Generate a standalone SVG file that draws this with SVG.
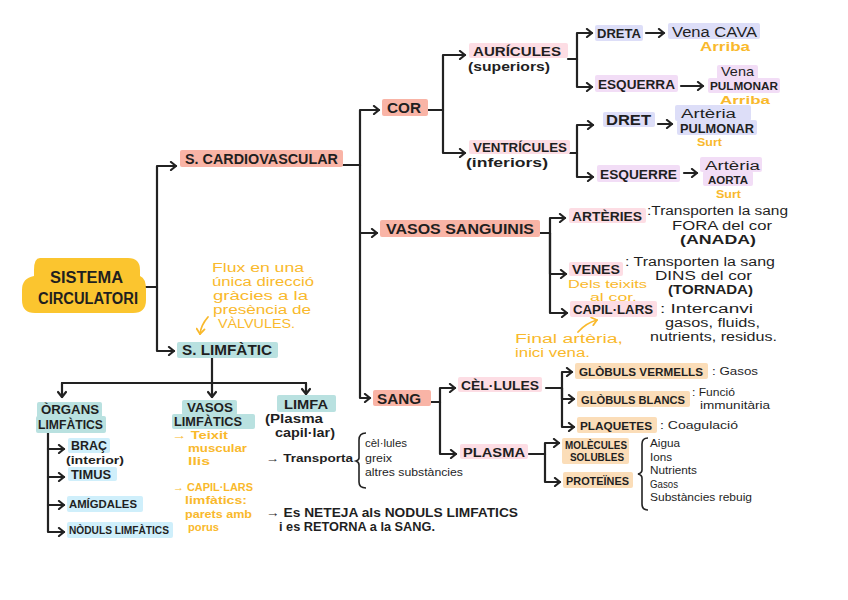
<svg xmlns="http://www.w3.org/2000/svg" width="848" height="600" viewBox="0 0 848 600">
<defs>
<marker id="ar" markerUnits="userSpaceOnUse" markerWidth="10" markerHeight="10" refX="7" refY="5" orient="auto">
<path d="M2,1 L7,5 L2,9" fill="none" stroke="#222" stroke-width="2.2" stroke-linecap="round" stroke-linejoin="round"/>
</marker>
<marker id="ary" markerUnits="userSpaceOnUse" markerWidth="10" markerHeight="10" refX="7" refY="5" orient="auto">
<path d="M2,1 L7,5 L2,9" fill="none" stroke="#F9B92C" stroke-width="1.8" stroke-linecap="round" stroke-linejoin="round"/>
</marker>
</defs>
<style>
.sal{fill:#F9B4A6}
.pk{fill:#FDDDE4}
.lv{fill:#DDDEF8}
.pu{fill:#F2DDF6}
.pe{fill:#FBDDB8}
.te{fill:#B9E1E0}
.lb{fill:#CFEFFB}
text{font-family:"Liberation Sans",Arial,sans-serif}
.b{font-weight:bold;fill:#1f1f1f}
.r{font-weight:normal;fill:#1f1f1f}
.y{font-weight:normal;fill:#F9B92C}
.yb{font-weight:bold;fill:#F9B92C}
.c{fill:none;stroke:#222;stroke-width:2.2;stroke-linejoin:round;stroke-linecap:round}
.ca{fill:none;stroke:#222;stroke-width:2.2;stroke-linejoin:round;stroke-linecap:round;marker-end:url(#ar)}
</style>
<rect width="848" height="600" fill="#ffffff"/>

<g id="connectors">
<path class="c" d="M145,287 H157"/>
<path class="ca" d="M157,287 V166 H176"/>
<path class="ca" d="M157,287 V351 H174"/>
<path class="c" d="M343,165 H360"/>
<path class="ca" d="M360,165 V110 H379"/>
<path class="ca" d="M360,165 V233 H377"/>
<path class="ca" d="M360,233 V398 H370"/>
<path class="c" d="M428,110 H443"/>
<path class="ca" d="M443,110 V55 H465"/>
<path class="ca" d="M443,110 V153 H465"/>
<path class="c" d="M568,59 H577"/>
<path class="ca" d="M577,59 V33 H592"/>
<path class="ca" d="M577,59 V87 H592"/>
<path class="ca" d="M646,33 H664"/>
<path class="ca" d="M681,86 H703"/>
<path class="c" d="M570,153 H577"/>
<path class="ca" d="M577,153 V125 H593"/>
<path class="ca" d="M577,153 V177 H593"/>
<path class="ca" d="M658,124 H672"/>
<path class="ca" d="M684,173 H697"/>
<path class="c" d="M540,233 H550"/>
<path class="ca" d="M550,233 V218 H565"/>
<path class="ca" d="M550,233 V274 H566"/>
<path class="ca" d="M550,233 V313 H567"/>
<path class="c" d="M431,402 H440"/>
<path class="ca" d="M440,402 V388 H455"/>
<path class="ca" d="M440,402 V454 H456"/>
<path class="c" d="M546,388 H562"/>
<path class="ca" d="M562,388 V372 H572"/>
<path class="ca" d="M562,388 V399 H574"/>
<path class="ca" d="M562,388 V427 H574"/>
<path class="c" d="M529,454 H545"/>
<path class="ca" d="M545,454 V443 H559"/>
<path class="ca" d="M545,454 V482 H560"/>
<path class="c" d="M212,358 V383"/>
<path class="c" d="M62,383 H306"/>
<path class="ca" d="M62,383 V397"/>
<path class="ca" d="M212,383 V397"/>
<path class="ca" d="M306,383 V394"/>
<path class="ca" d="M48,433 V532 H64"/>
<path class="ca" d="M48,449 H64"/>
<path class="ca" d="M48,477 H64"/>
<path class="ca" d="M48,505 H64"/>
<path d="M208,317 Q201,325 200,334" fill="none" stroke="#F9B92C" stroke-width="1.8" stroke-linecap="round" marker-end="url(#ary)"/>
<path d="M578,332 Q586,323 597,320" fill="none" stroke="#F9B92C" stroke-width="1.8" stroke-linecap="round" marker-end="url(#ary)"/>
<path d="M366,433 Q359,433 359,440 V458 Q359,460 356,461 Q359,462 359,465 V482 Q359,488 366,488" fill="none" stroke="#222" stroke-width="1.6"/>
<path d="M648,438 Q642,438 642,444 V470 Q642,473 638,474 Q642,475 642,478 V504 Q642,510 648,510" fill="none" stroke="#222" stroke-width="1.6"/>
</g>

<g id="sistema-circulatori">
<path d="M40,258 H128 Q140,258 140,270 V276 Q146,278 146,290 V300 Q146,313 133,313 H35 Q22,313 22,300 V290 Q22,278 34,276 V270 Q34,258 40,258 Z" fill="#FBC52F"/>
<text class="b" x="50" y="283" style="font-size:16px" textLength="73" lengthAdjust="spacingAndGlyphs">SISTEMA</text>
<text class="b" x="38" y="304" style="font-size:16px" textLength="100" lengthAdjust="spacingAndGlyphs">CIRCULATORI</text>
</g>

<g id="s-cardiovascular">
<rect class="sal" x="180" y="150" width="163" height="17" rx="2"/>
<text class="b" x="185" y="164" style="font-size:14px" textLength="153" lengthAdjust="spacingAndGlyphs">S. CARDIOVASCULAR</text>
</g>

<g id="s-limfatic">
<rect class="te" x="177" y="342" width="101" height="16" rx="2"/>
<text class="b" x="182" y="355" style="font-size:14px" textLength="90" lengthAdjust="spacingAndGlyphs">S. LIMFÀTIC</text>
</g>

<g id="nota-valvules">
<text class="y" x="212" y="272" style="font-size:12.5px" textLength="92" lengthAdjust="spacingAndGlyphs">Flux en una</text>
<text class="y" x="212" y="286" style="font-size:12.5px" textLength="102" lengthAdjust="spacingAndGlyphs">única direcció</text>
<text class="y" x="213" y="300" style="font-size:12.5px" textLength="95" lengthAdjust="spacingAndGlyphs">gràcies a la</text>
<text class="y" x="213" y="314" style="font-size:12.5px" textLength="98" lengthAdjust="spacingAndGlyphs">presència de</text>
<text class="y" x="218" y="328" style="font-size:12.5px" textLength="77" lengthAdjust="spacingAndGlyphs">VÀLVULES.</text>
</g>

<g id="cor">
<rect class="sal" x="382" y="99" width="46" height="17" rx="2"/>
<text class="b" x="387" y="113" style="font-size:14px" textLength="34" lengthAdjust="spacingAndGlyphs">COR</text>
</g>

<g id="vasos-sanguinis">
<rect class="sal" x="380" y="220" width="160" height="17" rx="2"/>
<text class="b" x="386" y="234" style="font-size:14px" textLength="148" lengthAdjust="spacingAndGlyphs">VASOS SANGUINIS</text>
</g>

<g id="sang">
<rect class="sal" x="373" y="390" width="58" height="16" rx="2"/>
<text class="b" x="377" y="404" style="font-size:14px" textLength="44" lengthAdjust="spacingAndGlyphs">SANG</text>
</g>

<g id="auricules">
<rect class="pk" x="469" y="43" width="99" height="15" rx="2"/>
<text class="b" x="473" y="56" style="font-size:13.5px" textLength="88" lengthAdjust="spacingAndGlyphs">AURÍCULES</text>
<text class="b" x="468" y="71" style="font-size:12.5px" textLength="82" lengthAdjust="spacingAndGlyphs">(superiors)</text>
</g>

<g id="ventricules">
<rect class="pk" x="469" y="140" width="101" height="14" rx="2"/>
<text class="b" x="473" y="152" style="font-size:13px" textLength="94" lengthAdjust="spacingAndGlyphs">VENTRÍCULES</text>
<text class="b" x="466" y="167" style="font-size:12.5px" textLength="82" lengthAdjust="spacingAndGlyphs">(inferiors)</text>
</g>

<g id="dreta">
<rect class="lv" x="595" y="25" width="48" height="16" rx="2"/>
<text class="b" x="597" y="38" style="font-size:12.5px" textLength="44" lengthAdjust="spacingAndGlyphs">DRETA</text>
</g>
<g id="vena-cava">
<rect class="lv" x="668" y="23" width="92" height="16" rx="2"/>
<text class="r" x="672" y="37" style="font-size:14px" textLength="85" lengthAdjust="spacingAndGlyphs">Vena CAVA</text>
<text class="yb" x="700" y="51" style="font-size:12px" textLength="50" lengthAdjust="spacingAndGlyphs">Arriba</text>
</g>

<g id="esquerra">
<rect class="pu" x="595" y="75" width="83" height="17" rx="2"/>
<text class="b" x="598" y="89" style="font-size:13.5px" textLength="77" lengthAdjust="spacingAndGlyphs">ESQUERRA</text>
</g>
<g id="vena-pulmonar">
<rect class="pu" x="717" y="65" width="41" height="15" rx="2"/>
<rect class="pu" x="708" y="78" width="72" height="15" rx="2"/>
<text class="r" x="721" y="76" style="font-size:13px" textLength="33" lengthAdjust="spacingAndGlyphs">Vena</text>
<text class="b" x="710" y="90" style="font-size:11.8px" textLength="68" lengthAdjust="spacingAndGlyphs">PULMONAR</text>
<text class="yb" x="720" y="104" style="font-size:11.5px" textLength="50" lengthAdjust="spacingAndGlyphs">Arriba</text>
</g>

<g id="dret">
<rect class="lv" x="603" y="112" width="52" height="15" rx="2"/>
<text class="b" x="606" y="125" style="font-size:14px" textLength="45" lengthAdjust="spacingAndGlyphs">DRET</text>
</g>
<g id="arteria-pulmonar">
<rect class="lv" x="675" y="105" width="76" height="16" rx="2"/>
<rect class="lv" x="677" y="120" width="80" height="15" rx="2"/>
<text class="r" x="681" y="118" style="font-size:12.5px" textLength="55" lengthAdjust="spacingAndGlyphs">Artèria</text>
<text class="b" x="680" y="132.5" style="font-size:12.5px" textLength="74" lengthAdjust="spacingAndGlyphs">PULMONAR</text>
<text class="yb" x="697" y="146" style="font-size:11px" textLength="25" lengthAdjust="spacingAndGlyphs">Surt</text>
</g>

<g id="esquerre">
<rect class="pu" x="597" y="165" width="83" height="17" rx="2"/>
<text class="b" x="600" y="179" style="font-size:13.5px" textLength="77" lengthAdjust="spacingAndGlyphs">ESQUERRE</text>
</g>
<g id="arteria-aorta">
<rect class="pu" x="700" y="157" width="62" height="15" rx="2"/>
<rect class="pu" x="703" y="171" width="50" height="15" rx="2"/>
<text class="r" x="705" y="170" style="font-size:12.5px" textLength="55" lengthAdjust="spacingAndGlyphs">Artèria</text>
<text class="b" x="708" y="184" style="font-size:11.5px" textLength="40" lengthAdjust="spacingAndGlyphs">AORTA</text>
<text class="yb" x="716" y="198" style="font-size:11px" textLength="25" lengthAdjust="spacingAndGlyphs">Surt</text>
</g>

<g id="arteries">
<rect class="pk" x="569" y="208" width="77" height="15" rx="2"/>
<text class="b" x="572" y="221" style="font-size:13.5px" textLength="70" lengthAdjust="spacingAndGlyphs">ARTÈRIES</text>
<text class="r" x="647" y="215" style="font-size:12.5px" textLength="141" lengthAdjust="spacingAndGlyphs">:Transporten la sang</text>
<text class="r" x="672" y="230" style="font-size:12.5px" textLength="100" lengthAdjust="spacingAndGlyphs">FORA del cor</text>
<text class="b" x="680" y="244" style="font-size:12.5px" textLength="76" lengthAdjust="spacingAndGlyphs">(ANADA)</text>
</g>

<g id="venes">
<rect class="pk" x="569" y="262" width="54" height="14" rx="2"/>
<text class="b" x="572" y="274" style="font-size:13px" textLength="48" lengthAdjust="spacingAndGlyphs">VENES</text>
<text class="r" x="625" y="266" style="font-size:12.5px" textLength="150" lengthAdjust="spacingAndGlyphs">: Transporten la sang</text>
<text class="r" x="655" y="280" style="font-size:12.5px" textLength="97" lengthAdjust="spacingAndGlyphs">DINS del cor</text>
<text class="b" x="668" y="294" style="font-size:12.5px" textLength="85" lengthAdjust="spacingAndGlyphs">(TORNADA)</text>
<text class="y" x="568" y="287.5" style="font-size:11.5px" textLength="79" lengthAdjust="spacingAndGlyphs">Dels teixits</text>
<text class="y" x="590" y="300.5" style="font-size:11px" textLength="47" lengthAdjust="spacingAndGlyphs">al cor.</text>
</g>

<g id="capil-lars">
<rect class="pk" x="570" y="301" width="87" height="16" rx="2"/>
<text class="b" x="573" y="314" style="font-size:13px" textLength="80" lengthAdjust="spacingAndGlyphs">CAPIL·LARS</text>
<text class="r" x="660" y="313" style="font-size:12.5px" textLength="93" lengthAdjust="spacingAndGlyphs">: Intercanvi</text>
<text class="r" x="665" y="327" style="font-size:12.5px" textLength="95" lengthAdjust="spacingAndGlyphs">gasos, fluids,</text>
<text class="r" x="650" y="341" style="font-size:12.5px" textLength="127" lengthAdjust="spacingAndGlyphs">nutrients, residus.</text>
<text class="y" x="515" y="343" style="font-size:12.5px" textLength="108" lengthAdjust="spacingAndGlyphs">Final artèria,</text>
<text class="y" x="515" y="357" style="font-size:12.5px" textLength="75" lengthAdjust="spacingAndGlyphs">inici vena.</text>
</g>

<g id="cel-lules">
<rect class="pk" x="458" y="377" width="84" height="15" rx="2"/>
<text class="b" x="461" y="390" style="font-size:13.5px" textLength="78" lengthAdjust="spacingAndGlyphs">CÈL·LULES</text>
</g>

<g id="plasma">
<rect class="pk" x="460" y="444" width="68" height="15" rx="2"/>
<text class="b" x="463" y="457" style="font-size:13.5px" textLength="62" lengthAdjust="spacingAndGlyphs">PLASMA</text>
</g>

<g id="globuls-vermells">
<rect class="pe" x="575" y="363" width="133" height="16" rx="2"/>
<text class="b" x="579" y="376" style="font-size:11.6px" textLength="124" lengthAdjust="spacingAndGlyphs">GLÒBULS VERMELLS</text>
<text class="r" x="712" y="375" style="font-size:11px" textLength="46" lengthAdjust="spacingAndGlyphs">: Gasos</text>
</g>

<g id="globuls-blancs">
<rect class="pe" x="577" y="391" width="113" height="16" rx="2"/>
<text class="b" x="581" y="404" style="font-size:11px" textLength="104" lengthAdjust="spacingAndGlyphs">GLÒBULS BLANCS</text>
<text class="r" x="692" y="396" style="font-size:10.5px" textLength="43" lengthAdjust="spacingAndGlyphs">: Funció</text>
<text class="r" x="700" y="409" style="font-size:10.5px" textLength="70" lengthAdjust="spacingAndGlyphs">immunitària</text>
</g>

<g id="plaquetes">
<rect class="pe" x="577" y="417" width="80" height="16" rx="2"/>
<text class="b" x="580" y="430" style="font-size:11.7px" textLength="72" lengthAdjust="spacingAndGlyphs">PLAQUETES</text>
<text class="r" x="660" y="429" style="font-size:11px" textLength="78" lengthAdjust="spacingAndGlyphs">: Coagulació</text>
</g>

<g id="molecules-solubles">
<rect class="pe" x="562" y="438" width="67" height="26" rx="2"/>
<text class="b" x="565" y="449" style="font-size:10px" textLength="62" lengthAdjust="spacingAndGlyphs">MOLÈCULES</text>
<text class="b" x="570" y="461" style="font-size:10px" textLength="54" lengthAdjust="spacingAndGlyphs">SOLUBLES</text>
</g>

<g id="proteines">
<rect class="pe" x="563" y="472" width="70" height="16" rx="2"/>
<text class="b" x="566" y="485" style="font-size:10.8px" textLength="63" lengthAdjust="spacingAndGlyphs">PROTEÏNES</text>
</g>

<g id="components-plasma">
<text class="r" x="650" y="447" style="font-size:11px" textLength="30" lengthAdjust="spacingAndGlyphs">Aigua</text>
<text class="r" x="650" y="461" style="font-size:11px" textLength="22" lengthAdjust="spacingAndGlyphs">Ions</text>
<text class="r" x="650" y="474" style="font-size:11px" textLength="47" lengthAdjust="spacingAndGlyphs">Nutrients</text>
<text class="r" x="650" y="488" style="font-size:11px" textLength="28" lengthAdjust="spacingAndGlyphs">Gasos</text>
<text class="r" x="650" y="501" style="font-size:11px" textLength="102" lengthAdjust="spacingAndGlyphs">Substàncies rebuig</text>
</g>

<g id="organs-limfatics">
<rect class="te" x="37" y="402" width="65" height="16" rx="2"/>
<rect class="te" x="36" y="416" width="70" height="17" rx="2"/>
<text class="b" x="41" y="414" style="font-size:12px" textLength="58" lengthAdjust="spacingAndGlyphs">ÒRGANS</text>
<text class="b" x="38" y="429" style="font-size:12px" textLength="65" lengthAdjust="spacingAndGlyphs">LIMFÀTICS</text>
</g>

<g id="brac">
<rect class="lb" x="68" y="438" width="42" height="15" rx="2"/>
<text class="b" x="71" y="450" style="font-size:12px" textLength="36" lengthAdjust="spacingAndGlyphs">BRAÇ</text>
<text class="b" x="66" y="464" style="font-size:11px" textLength="58" lengthAdjust="spacingAndGlyphs">(interior)</text>
</g>
<g id="timus">
<rect class="lb" x="68" y="467" width="49" height="14" rx="2"/>
<text class="b" x="71" y="479" style="font-size:12px" textLength="40" lengthAdjust="spacingAndGlyphs">TIMUS</text>
</g>
<g id="amigdales">
<rect class="lb" x="67" y="496" width="76" height="16" rx="2"/>
<text class="b" x="69" y="508" style="font-size:11.3px" textLength="68" lengthAdjust="spacingAndGlyphs">AMÍGDALES</text>
</g>
<g id="noduls-limfatics">
<rect class="lb" x="67" y="522" width="106" height="16" rx="2"/>
<text class="b" x="69" y="534" style="font-size:10.2px" textLength="100" lengthAdjust="spacingAndGlyphs">NÒDULS LIMFÀTICS</text>
</g>

<g id="vasos-limfatics">
<rect class="te" x="182" y="400" width="55" height="15" rx="2"/>
<rect class="te" x="172" y="414" width="83" height="15" rx="2"/>
<text class="b" x="187" y="412" style="font-size:12px" textLength="46" lengthAdjust="spacingAndGlyphs">VASOS</text>
<text class="b" x="174" y="426" style="font-size:12px" textLength="68" lengthAdjust="spacingAndGlyphs">LIMFÀTICS</text>
<text class="yb" x="172" y="439" style="font-size:11.5px" textLength="56" lengthAdjust="spacingAndGlyphs">→ Teixit</text>
<text class="yb" x="188" y="452" style="font-size:11.5px" textLength="59" lengthAdjust="spacingAndGlyphs">muscular</text>
<text class="yb" x="188" y="465" style="font-size:11.5px" textLength="22" lengthAdjust="spacingAndGlyphs">llis</text>
<text class="yb" x="173" y="491" style="font-size:11.5px" textLength="80" lengthAdjust="spacingAndGlyphs">→ CAPIL·LARS</text>
<text class="yb" x="185" y="504" style="font-size:11.5px" textLength="62" lengthAdjust="spacingAndGlyphs">limfàtics:</text>
<text class="yb" x="185" y="518" style="font-size:11.5px" textLength="67" lengthAdjust="spacingAndGlyphs">parets amb</text>
<text class="yb" x="188" y="531" style="font-size:11.5px" textLength="31" lengthAdjust="spacingAndGlyphs">porus</text>
</g>

<g id="limfa">
<rect class="te" x="277" y="395" width="59" height="17" rx="2"/>
<text class="b" x="284" y="409" style="font-size:13px" textLength="44" lengthAdjust="spacingAndGlyphs">LIMFA</text>
<text class="b" x="265" y="423" style="font-size:12px" textLength="58" lengthAdjust="spacingAndGlyphs">(Plasma</text>
<text class="b" x="275" y="436.5" style="font-size:12px" textLength="60" lengthAdjust="spacingAndGlyphs">capil·lar)</text>
<text class="b" x="266" y="462" style="font-size:11.5px" textLength="87" lengthAdjust="spacingAndGlyphs">→ Transporta</text>
<text class="r" x="365" y="447" style="font-size:11px" textLength="42" lengthAdjust="spacingAndGlyphs">cèl·lules</text>
<text class="r" x="365" y="462" style="font-size:11px" textLength="27" lengthAdjust="spacingAndGlyphs">greix</text>
<text class="r" x="365" y="476" style="font-size:11px" textLength="98" lengthAdjust="spacingAndGlyphs">altres substàncies</text>
<text class="b" x="266" y="517" style="font-size:12.5px" textLength="252" lengthAdjust="spacingAndGlyphs">→ Es NETEJA als NODULS LIMFATICS</text>
<text class="b" x="279" y="531" style="font-size:12.5px" textLength="156" lengthAdjust="spacingAndGlyphs">i es RETORNA a la SANG.</text>
</g>
</svg>
